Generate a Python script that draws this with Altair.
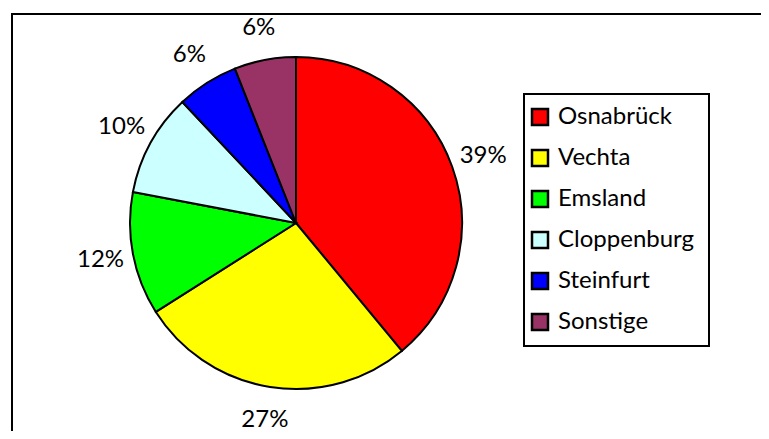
import altair as alt
import pandas as pd

regions = ["Osnabrück", "Vechta", "Emsland", "Cloppenburg", "Steinfurt", "Sonstige"]
shares = [39, 27, 12, 10, 6, 6]
colors = ["#FF0000", "#FFFF00", "#00FF00", "#CCFFFF", "#0000FF", "#993366"]
labels = [f"{v}%" for v in shares]

df = pd.DataFrame({"region": regions, "share": shares, "label": labels, "order": list(range(len(regions)))})
one = pd.DataFrame({"k": [0]})

FONT = "Lato"
CX, CY, R = 288, 215, 166

base = alt.Chart(df).encode(
    theta=alt.Theta("share:Q", stack=True),
    order=alt.Order("order:Q"),
)

pie = base.mark_arc(radius=R, stroke="black", strokeWidth=2).encode(
    x=alt.value(CX), y=alt.value(CY),
    color=alt.Color(
        "region:N",
        scale=alt.Scale(domain=regions, range=colors),
        sort=regions,
        legend=alt.Legend(
            title=None, orient="none", legendX=520, legendY=97,
            symbolType="square", symbolSize=256, symbolStrokeColor="black",
            symbolStrokeWidth=2.5, labelFont=FONT, labelFontSize=24, labelColor="black",
            labelOffset=6, rowPadding=15, padding=0, labelLimit=300,
        ),
    ),
)

text = base.mark_text(radius=199, font=FONT, fontSize=24, color="black").encode(
    x=alt.value(CX), y=alt.value(CY), text="label:N"
)

legend_box = alt.Chart(one).mark_rect(fill="white", stroke="black", strokeWidth=2).encode(
    x=alt.value(516), x2=alt.value(701), y=alt.value(86), y2=alt.value(338)
)

top_line = alt.Chart(one).mark_rule(color="black", strokeWidth=2).encode(
    x=alt.value(3), x2=alt.value(753), y=alt.value(6)
)
left_line = alt.Chart(one).mark_rule(color="black", strokeWidth=2).encode(
    x=alt.value(4), y=alt.value(5), y2=alt.value(423)
)

chart = alt.layer(top_line, left_line, legend_box, pie, text).properties(
    width=753, height=423, padding=0, autosize=alt.AutoSizeParams(type="none"),
    background="white",
).configure_view(strokeWidth=0)

chart.save("out.html", embed_options={"renderer": "svg", "actions": False})
